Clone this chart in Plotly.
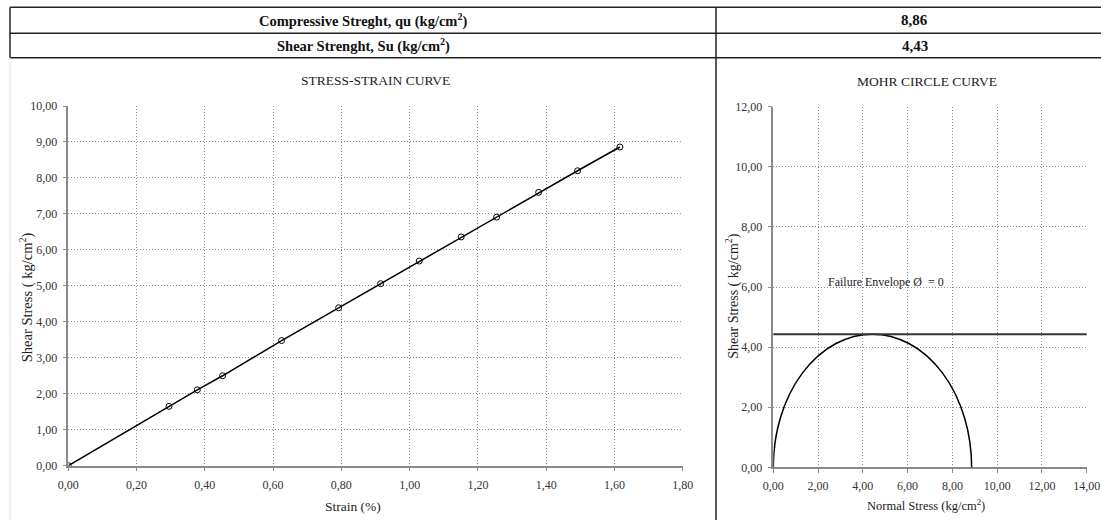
import plotly.graph_objects as go

# ---- data ----
strain_pct = [0.00, 0.295, 0.378, 0.452, 0.625, 0.792, 0.915, 1.028, 1.151, 1.255, 1.378, 1.492, 1.616]
shear_stress = [0.00, 1.65, 2.11, 2.50, 3.48, 4.39, 5.06, 5.69, 6.36, 6.91, 7.60, 8.20, 8.86]
qu = 8.86   # compressive strength kg/cm2
su = 4.43   # shear strength kg/cm2
header_labels = ["Compressive Streght, qu (kg/cm<sup>2</sup>)", "Shear Strenght, Su (kg/cm<sup>2</sup>)"]
header_values = ["8,86", "4,43"]

W, H = 1101, 520
FONT = "Liberation Serif"


def px(x):
    return x / W


def py(y):
    return 1 - y / H


fig = go.Figure()

fig.add_trace(go.Scatter(
    x=strain_pct, y=shear_stress, mode="lines+markers",
    line=dict(color="black", width=1.5),
    marker=dict(symbol="circle-open", size=6, color="black", line=dict(width=1)),
    xaxis="x", yaxis="y", showlegend=False, hoverinfo="x+y"))

# invisible anchor trace for the second subplot
fig.add_trace(go.Scatter(x=[0, qu], y=[0, 0], mode="markers", marker=dict(size=1, opacity=0),
                         xaxis="x2", yaxis="y2", showlegend=False, hoverinfo="skip"))

grid = dict(showgrid=True, gridcolor="#8c8c8c", gridwidth=1, griddash="1px,2px",
            showline=True, linecolor="#8a8a8a", linewidth=1.5, mirror=False,
            ticks="outside", ticklen=4, tickcolor="#8a8a8a", zeroline=False,
            tickfont=dict(family=FONT, size=12, color="#333"), tickformat=".2f",
            ticklabelstandoff=3, fixedrange=True, automargin=False)

L_x0, L_x1 = 68.3, 682.7
L_ytop, L_ybot = 106.0, 465.7
R_x0, R_x1 = 773.3, 1086.7
R_ytop, R_ybot = 106.7, 467.3

fig.update_layout(
    template="none",
    width=W, height=H, autosize=False,
    margin=dict(l=0, r=0, t=0, b=0, autoexpand=False),
    paper_bgcolor="white", plot_bgcolor="white",
    separators=",.",
    font=dict(family=FONT, size=12, color="#222"),
    xaxis=dict(grid, domain=[px(L_x0), px(L_x1)], range=[0, 1.8], dtick=0.2, tick0=0, anchor="y"),
    yaxis=dict(grid, domain=[py(L_ybot), py(L_ytop)], range=[0, 10], dtick=1, tick0=0, anchor="x"),
    xaxis2=dict(grid, domain=[px(R_x0), px(R_x1)], range=[0, 14], dtick=2, tick0=0, anchor="y2"),
    yaxis2=dict(grid, domain=[py(R_ybot), py(R_ytop)], range=[0, 12], dtick=2, tick0=0, anchor="x2"),
)

shapes = []
# header table lines
for yy in [7.3, 33.3, 57.7]:
    shapes.append(dict(type="line", xref="paper", yref="paper", x0=px(10), x1=px(1105),
                       y0=py(yy), y1=py(yy), line=dict(color="#222", width=1.5)))
shapes.append(dict(type="line", xref="paper", yref="paper", x0=px(10), x1=px(10),
                   y0=py(7.3), y1=py(57.7), line=dict(color="#222", width=1.5)))
shapes.append(dict(type="line", xref="paper", yref="paper", x0=px(716), x1=px(716),
                   y0=py(7.3), y1=py(522), line=dict(color="#222", width=1.5)))
# faint chart-area border on the left
shapes.append(dict(type="line", xref="paper", yref="paper", x0=px(10), x1=px(10),
                   y0=py(57.7), y1=py(522), line=dict(color="#e6e6e6", width=1)))
# Mohr circle (centre qu/2, radius su) – upper half visible inside the plot
shapes.append(dict(type="circle", xref="x2", yref="y2", x0=qu / 2 - su, x1=qu / 2 + su,
                   y0=-su, y1=su, line=dict(color="black", width=1.5), layer="above"))
# failure envelope at Su
shapes.append(dict(type="line", xref="x2 domain", yref="y2", x0=0, x1=1, y0=su, y1=su,
                   line=dict(color="#333", width=2), layer="above"))
fig.update_layout(shapes=shapes)

ann = []
hdr_y = [20.3, 45.5]
for lab, val, yy in zip(header_labels, header_values, hdr_y):
    ann.append(dict(text="<b>" + lab + "</b>", x=px(363), y=py(yy), xref="paper", yref="paper",
                    showarrow=False, font=dict(family=FONT, size=14.5, color="#111"),
                    xanchor="center", yanchor="middle"))
    ann.append(dict(text="<b>" + val + "</b>", x=px(915), y=py(yy), xref="paper", yref="paper",
                    showarrow=False, font=dict(family=FONT, size=15, color="#111"),
                    xanchor="center", yanchor="middle"))
ann += [
    dict(text="STRESS-STRAIN CURVE", x=px(375.3), y=py(80.5), xref="paper", yref="paper", showarrow=False,
         font=dict(family=FONT, size=13.5, color="#222"), xanchor="center", yanchor="middle"),
    dict(text="MOHR CIRCLE CURVE", x=px(926.7), y=py(81.2), xref="paper", yref="paper", showarrow=False,
         font=dict(family=FONT, size=13.5, color="#222"), xanchor="center", yanchor="middle"),
    dict(text="Strain (%)", x=px(353.3), y=py(506.7), xref="paper", yref="paper", showarrow=False,
         font=dict(family=FONT, size=13.5, color="#222"), xanchor="center", yanchor="middle"),
    dict(text="Normal Stress (kg/cm<sup>2</sup>)", x=px(926.3), y=py(505), xref="paper", yref="paper",
         showarrow=False, font=dict(family=FONT, size=12.5, color="#222"), xanchor="center", yanchor="middle"),
    dict(text="Shear Stress ( kg/cm<sup>2</sup>)", x=px(26.7), y=py(297.5), xref="paper", yref="paper",
         showarrow=False, textangle=-90, font=dict(family=FONT, size=14.5, color="#222"),
         xanchor="center", yanchor="middle"),
    dict(text="Shear Stress ( kg/cm<sup>2</sup>)", x=px(733), y=py(296.7), xref="paper", yref="paper",
         showarrow=False, textangle=-90, font=dict(family=FONT, size=14, color="#222"),
         xanchor="center", yanchor="middle"),
    dict(text="Failure Envelope Ø  = 0", x=2.36, y=6.17, xref="x2", yref="y2", showarrow=False,
         font=dict(family=FONT, size=12, color="#222"), xanchor="left", yanchor="middle"),
]
fig.update_layout(annotations=ann)

fig.write_html("out.html", config={"displayModeBar": False},
               post_script="document.body.style.margin='0px';document.body.style.overflow='hidden';")
